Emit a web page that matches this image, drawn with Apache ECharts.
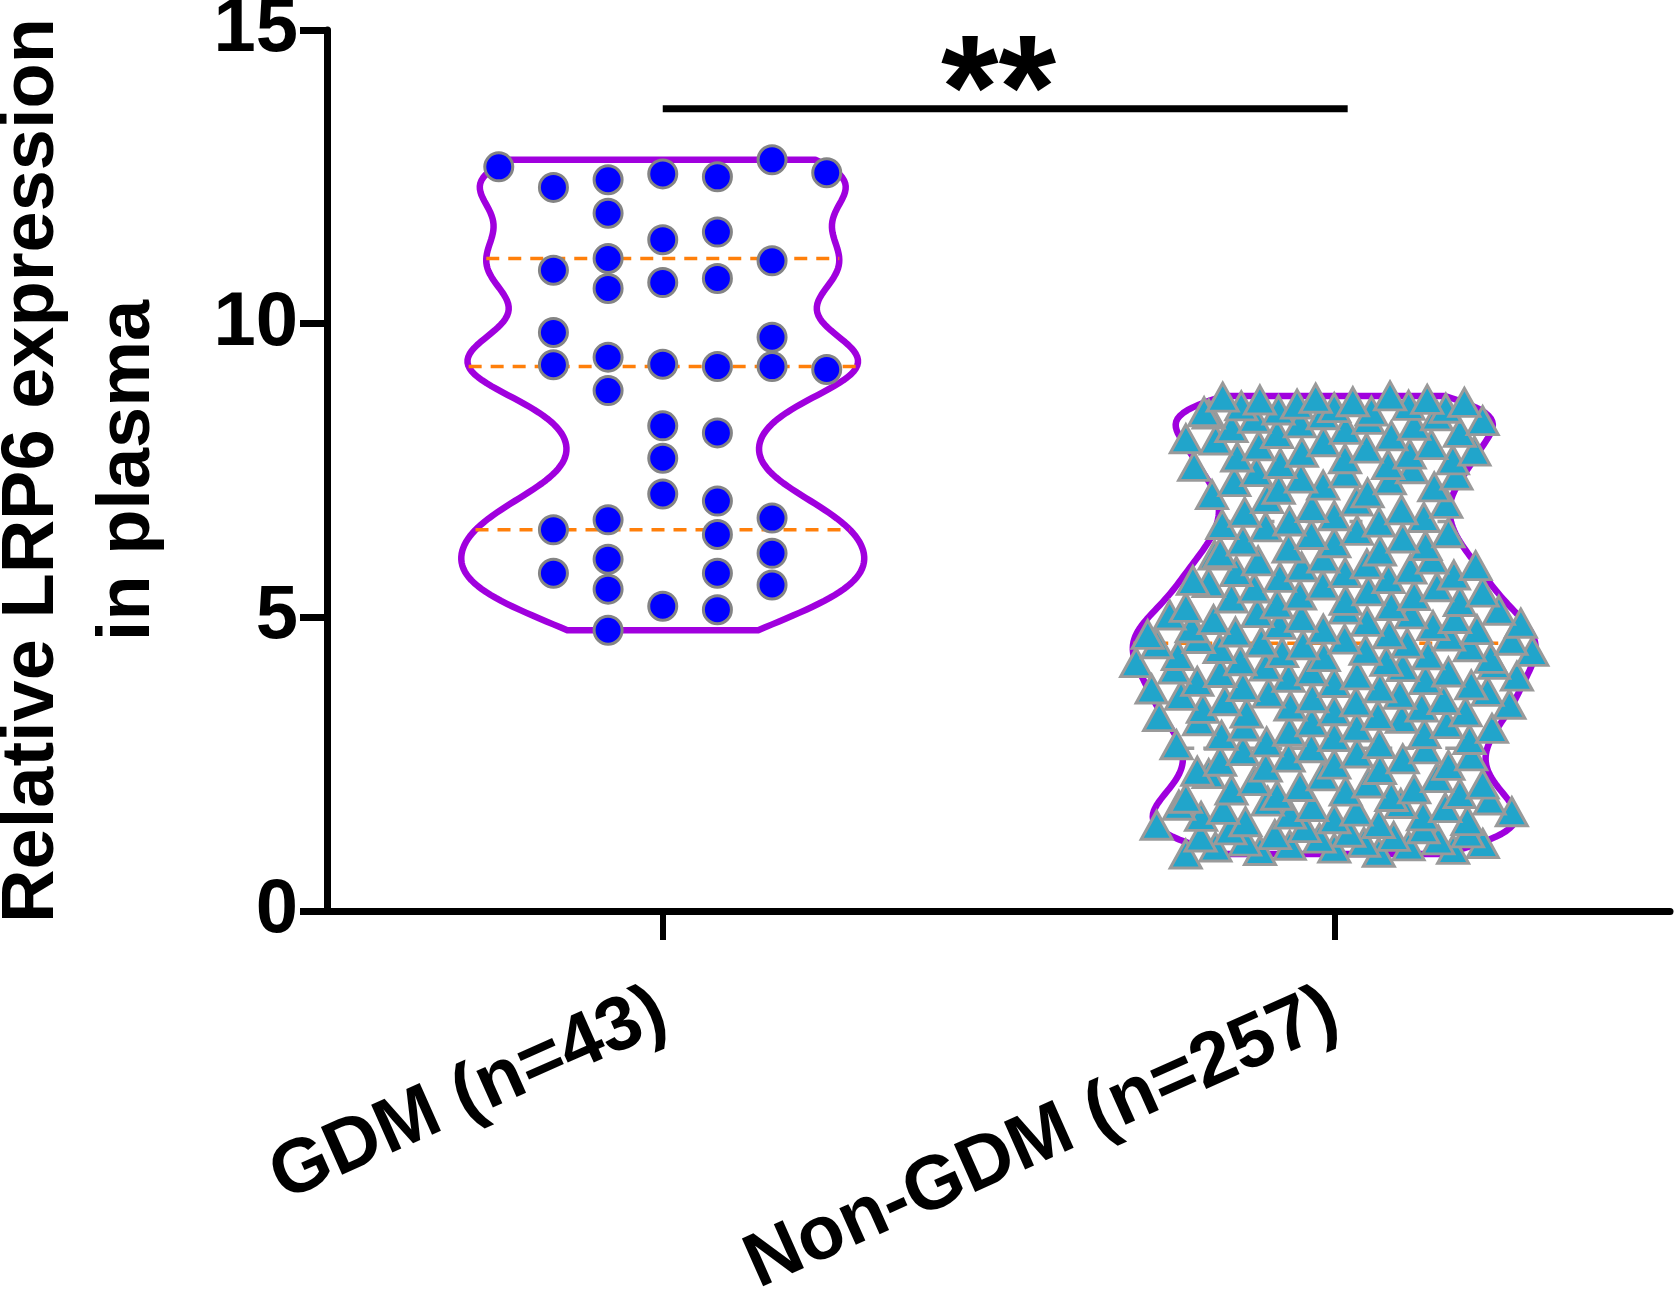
<!DOCTYPE html>
<html><head><meta charset="utf-8">
<script src="https://cdn.jsdelivr.net/npm/echarts@6/dist/echarts.min.js"></script>
<style>html,body{margin:0;padding:0;background:#fff}#chart{width:1675px;height:1295px}</style>
</head><body><div id="chart"></div>
<script>
// ---------------- data ----------------
const categories = ['GDM (n=43)', 'Non-GDM (n=257)'];
const yAxisTitle = 'Relative LRP6 expression\nin plasma';
const yMin = 0, yMax = 15, yInterval = 5;

// GDM values, read column by column (beeswarm column slot alongside)
const gdmValues = [
  12.67,
  12.32, 10.91, 9.85, 9.30, 6.49, 5.75,
  12.45, 11.88, 11.11, 10.60, 9.43, 8.86, 6.66, 5.99, 5.48, 4.78,
  12.55, 11.43, 10.70, 9.31, 8.26, 7.71, 7.10, 5.19,
  12.50, 11.56, 10.77, 9.27, 8.14, 6.98, 6.41, 5.75, 5.13,
  12.79, 11.07, 9.77, 9.27, 6.69, 6.09, 5.55,
  12.57, 9.22
];
const gdmSlots = [
  -3,
  -2, -2, -2, -2, -2, -2,
  -1, -1, -1, -1, -1, -1, -1, -1, -1, -1,
  0, 0, 0, 0, 0, 0, 0, 0,
  1, 1, 1, 1, 1, 1, 1, 1, 1,
  2, 2, 2, 2, 2, 2, 2,
  3, 3
];

// Non-GDM values (estimated from the dense triangle cloud)
const nonGdmValues = [
  0.97, 1.00, 1.03, 1.05, 1.07, 1.09, 1.11, 1.12, 1.15, 1.17, 1.19, 1.21, 1.24, 1.26, 1.27, 1.30, 1.33, 1.34, 1.38, 1.40, 1.42, 1.46, 1.49,
  1.52, 1.54, 1.57, 1.61, 1.62, 1.65, 1.69, 1.70, 1.73, 1.76, 1.78, 1.80, 1.83, 1.87, 1.89, 1.92, 1.95, 1.97, 2.00, 2.04, 2.06, 2.08, 2.12, 2.16, 2.18, 2.22, 2.27, 2.30,
  2.34, 2.38, 2.41, 2.45, 2.48, 2.50, 2.55, 2.59, 2.62, 2.64, 2.69, 2.73, 2.76,
  2.78, 2.83, 2.85, 2.88, 2.92, 2.97, 2.99, 3.02, 3.06, 3.11, 3.13, 3.15, 3.19,
  3.22, 3.24, 3.28, 3.31, 3.33, 3.37, 3.39, 3.41, 3.45, 3.47, 3.49, 3.52, 3.56, 3.58, 3.60, 3.63, 3.67, 3.69, 3.71, 3.74, 3.78, 3.80, 3.82, 3.85, 3.89, 3.91, 3.94, 3.98,
  4.00, 4.02, 4.06, 4.07, 4.09, 4.12, 4.16, 4.17, 4.20, 4.23, 4.25, 4.26, 4.30, 4.33, 4.35, 4.36, 4.40, 4.42, 4.44, 4.47, 4.50, 4.53, 4.55,
  4.56,
  4.58, 4.61, 4.63, 4.64, 4.68, 4.71, 4.72, 4.75, 4.79, 4.80, 4.82, 4.86, 4.88, 4.90, 4.93, 4.96, 4.98, 5.00, 5.04, 5.06, 5.08, 5.12, 5.14, 5.17, 5.20,
  5.23, 5.27, 5.29, 5.33, 5.37, 5.38, 5.43, 5.45, 5.50, 5.52, 5.55, 5.59, 5.63, 5.66, 5.68, 5.72, 5.76, 5.78, 5.82, 5.86, 5.88, 5.91, 5.96, 5.99, 6.01, 6.06, 6.10, 6.13, 6.18,
  6.22, 6.27, 6.30, 6.35, 6.41, 6.44, 6.48, 6.54, 6.58, 6.62,
  6.64, 6.70, 6.73, 6.79, 6.83, 6.87, 6.94, 6.98, 7.02, 7.09, 7.12, 7.18,
  7.22, 7.25, 7.31, 7.34, 7.37, 7.42, 7.46, 7.48, 7.53, 7.57, 7.60, 7.62, 7.68, 7.70, 7.73, 7.78, 7.81, 7.83, 7.88, 7.92, 7.94, 7.99, 8.02, 8.04, 8.09, 8.13, 8.15, 8.20, 8.23, 8.27,
  8.31, 8.35, 8.37, 8.39, 8.43, 8.45, 8.46, 8.50, 8.51, 8.53, 8.56, 8.57, 8.60, 8.61, 8.63, 8.66, 8.67, 8.70, 8.71, 8.73, 8.75, 8.77
];

// significance annotation (category indices and bracket level)
const sigText = '**';
const sigFrom = 0, sigTo = 1.02, sigLevel = 13.66;

// ---------------- styling / layout ----------------
const FONT = "'Liberation Sans', Arial, Helvetica, sans-serif";
const VIOLIN_COLOR = '#A000DE';
const QUART_COLOR = '#FF7F0A';
const MAX_HALF = 0.30;          // half width of violin at its widest (x-units)
const GDM_SLOT = 0.0814;        // beeswarm column spacing (x-units)
const NON_SLOT_MAX = 0.034;     // max triangle spacing in a row (x-units)
const ROW_H = 0.45;             // row height for non-GDM swarm (y-units)

function kde(vals, bw, y) {
  let s = 0;
  for (const v of vals) { const z = (y - v) / bw; s += Math.exp(-0.5 * z * z); }
  return s;
}
function quantile(vals, p) {
  const s = vals.slice().sort((a, b) => a - b);
  const pos = (s.length + 1) * p - 1;
  const lo = Math.floor(pos), f = pos - lo;
  return s[lo] + (s[Math.min(lo + 1, s.length - 1)] - s[lo]) * f;
}
function violin(vals, bw, quartColors) {
  const lo = Math.min(...vals), hi = Math.max(...vals);
  const N = 160, ys = [], ds = [];
  for (let i = 0; i <= N; i++) { const y = lo + (hi - lo) * i / N; ys.push(y); ds.push(kde(vals, bw, y)); }
  const maxD = Math.max(...ds);
  const hw = ds.map(d => d / maxD * MAX_HALF);
  const hwAt = y => kde(vals, bw, Math.min(hi, Math.max(lo, y))) / maxD * MAX_HALF;
  const qs = [0.25, 0.5, 0.75].map((p, i) => {
    const q = quantile(vals, p);
    return { y: q, hw: hwAt(q), color: quartColors[i] };
  });
  return { ys, hw, qs, hwAt };
}
const violins = [
  violin(gdmValues, 0.58, [QUART_COLOR, QUART_COLOR, QUART_COLOR]),
  violin(nonGdmValues, 0.38, ['#9C9C9C', QUART_COLOR, '#9C9C9C'])
];

// swarm layout: rows of points, each row spread across the violin width
function swarmRows(vals, center, vd) {
  const sorted = vals.slice().sort((a, b) => a - b);
  const rows = []; let cur = [], start = null;
  for (const v of sorted) {
    if (start === null || v - start >= ROW_H) { if (cur.length) rows.push(cur); cur = [v]; start = v; }
    else cur.push(v);
  }
  if (cur.length) rows.push(cur);
  const PHI = 0.6180339887;
  const pts = [];
  rows.forEach(row => {
    const n = row.length;
    const mean = row.reduce((a, b) => a + b, 0) / n;
    const span = Math.max(0.02, 2 * vd.hwAt(mean) - 0.01);
    const step = n > 1 ? Math.min(NON_SLOT_MAX, span / (n - 1)) : 0;
    const order = row.map((v, k) => ({ k, key: (k * PHI) % 1 })).sort((a, b) => a.key - b.key);
    const slotOf = new Array(n);
    order.forEach((o, rank) => { slotOf[o.k] = rank; });
    row.forEach((v, k) => {
      pts.push([center + (slotOf[k] - (n - 1) / 2) * step, v]);
    });
  });
  return pts;
}

const gdmPoints = gdmValues.map((v, i) => [0 + gdmSlots[i] * GDM_SLOT, v]);
const nonPoints = swarmRows(nonGdmValues, 1, violins[1]);

const chart = echarts.init(document.getElementById('chart'), null, { renderer: 'canvas' });
chart.setOption({
  animation: false,
  backgroundColor: '#fff',
  grid: { left: 327, right: 5, top: 30, bottom: 384, containLabel: false, outerBoundsMode: 'none' },
  xAxis: [
    {
      type: 'category', data: categories, boundaryGap: true,
      axisLine: { show: true, onZero: false, lineStyle: { color: '#000', width: 7 } },
      axisTick: { show: true, alignWithLabel: true, length: 29, lineStyle: { color: '#000', width: 6 } },
      axisLabel: { show: true, interval: 0, rotate: 24, margin: 98, color: '#000', fontSize: 76, fontWeight: 'bold', fontFamily: FONT },
      splitLine: { show: false }
    },
    { type: 'value', min: -0.5, max: 1.5, show: false }
  ],
  yAxis: {
    type: 'value', min: yMin, max: yMax, interval: yInterval,
    axisLine: { show: true, onZero: false, lineStyle: { color: '#000', width: 7 } },
    axisTick: { show: true, length: 27, lineStyle: { color: '#000', width: 7 } },
    axisLabel: { margin: 29, color: '#000', fontSize: 76, fontWeight: 'bold', fontFamily: FONT },
    splitLine: { show: false },
    name: yAxisTitle, nameLocation: 'middle', nameRotate: 90, nameGap: 150,
    nameTextStyle: { color: '#000', fontSize: 74, fontWeight: 'bold', lineHeight: 96, fontFamily: FONT }
  },
  series: [
    {
      type: 'custom', xAxisIndex: 1, yAxisIndex: 0, clip: false, z: 1,
      data: [[0, 0], [1, 0]],
      renderItem: function (params, api) {
        const idx = params.dataIndex, vd = violins[idx];
        const pts = [];
        for (let i = 0; i < vd.ys.length; i++) pts.push(api.coord([idx + vd.hw[i], vd.ys[i]]));
        for (let i = vd.ys.length - 1; i >= 0; i--) pts.push(api.coord([idx - vd.hw[i], vd.ys[i]]));
        const children = vd.qs.map(q => {
          const a = api.coord([idx - q.hw, q.y]), b = api.coord([idx + q.hw, q.y]);
          return { type: 'line', shape: { x1: a[0], y1: a[1], x2: b[0], y2: b[1] },
                   style: { stroke: q.color, lineWidth: 3.5, lineDash: [13, 9] } };
        });
        children.unshift({ type: 'polygon', shape: { points: pts },
          style: { fill: 'none', stroke: VIOLIN_COLOR, lineWidth: 6.5, lineJoin: 'round' } });
        return { type: 'group', children: children };
      }
    },
    {
      type: 'scatter', xAxisIndex: 1, yAxisIndex: 0, z: 3,
      data: gdmPoints, symbol: 'circle', symbolSize: 28,
      itemStyle: { color: '#0000FF', borderColor: '#848484', borderWidth: 3, opacity: 1 }
    },
    {
      type: 'scatter', xAxisIndex: 1, yAxisIndex: 0, z: 3,
      data: nonPoints, symbol: 'triangle', symbolSize: [31, 28],
      itemStyle: { color: '#21A5CB', borderColor: '#9A9A9A', borderWidth: 3, opacity: 1 }
    },
    {
      type: 'custom', xAxisIndex: 1, yAxisIndex: 0, clip: false, z: 4,
      data: [[sigFrom, sigLevel]],
      renderItem: function (params, api) {
        const a = api.coord([sigFrom, sigLevel]), b = api.coord([sigTo, sigLevel]);
        const mid = api.coord([0.5, sigLevel])[0];
        return { type: 'group', children: [
          { type: 'line', shape: { x1: a[0], y1: a[1], x2: b[0], y2: b[1] }, style: { stroke: '#000', lineWidth: 7 } },
          { type: 'text', x: mid, y: a[1] - 12,
            style: { text: sigText, align: 'center', verticalAlign: 'middle', fill: '#000',
                     font: 'bold 148px ' + FONT } }
        ] };
      }
    }
  ]
});
</script>
</body></html>
